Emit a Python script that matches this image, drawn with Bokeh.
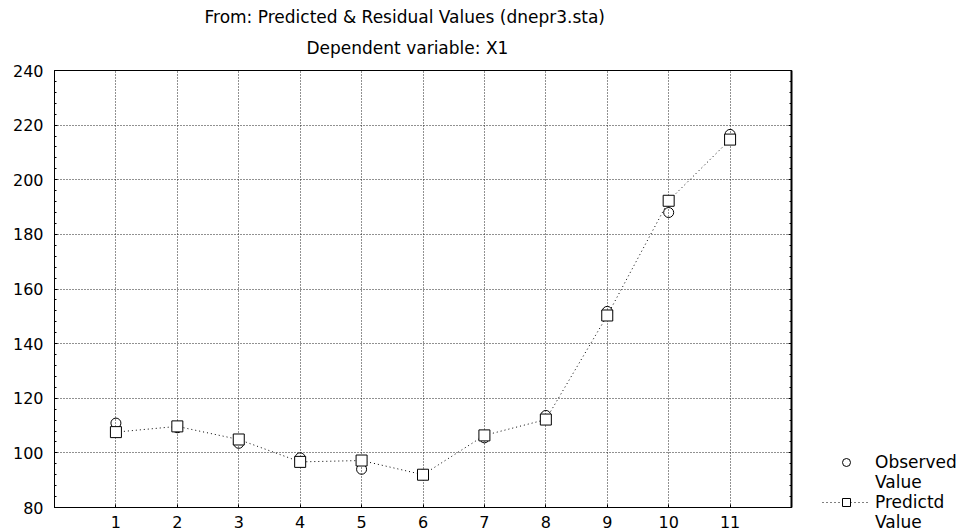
from bokeh.plotting import figure
from bokeh.layouts import row
from bokeh.models import Legend, LegendItem, LinearAxis, FixedTicker, Range1d, Title
from bokeh.embed import file_html
from bokeh.resources import INLINE

# ---- data ----
cases = [1, 2, 3, 4, 5, 6, 7, 8, 9, 10, 11]
observed = [110.9, 109.2, 103.5, 98.2, 94.0, 92.0, 105.5, 113.7, 151.8, 188.0, 216.6]
predicted = [107.6, 109.7, 104.9, 96.7, 97.2, 92.0, 106.4, 112.2, 150.3, 192.3, 214.7]
y_ticks = [80, 100, 120, 140, 160, 180, 200, 220, 240]
y_minor_ticks = list(range(80, 241, 4))
title_lines = ["From: Predicted & Residual Values (dnepr3.sta)", "Dependent variable: X1"]
legend_labels = ["Observed", "Value", "Predictd", "Value"]

FONT = "DejaVu Sans"
FS = "16px"
TFS = "17px"

p = figure(frame_width=737, frame_height=437, output_backend="svg", toolbar_location=None,
           x_range=Range1d(0, 12), y_range=Range1d(80, 240),
           min_border_left=54, min_border_right=10, min_border_top=70,
           min_border_bottom=25)
p.background_fill_color = "white"
p.border_fill_color = "white"
p.outline_line_color = "black"
p.outline_line_width = 1

# titles (first added sits closest to the plot)
p.add_layout(Title(text=title_lines[1], align="left", offset=252, standoff=25,
                   text_font=FONT, text_font_size=TFS, text_font_style="normal",
                   text_color="black"), "above")
p.add_layout(Title(text=title_lines[0], align="left", offset=150, standoff=-7,
                   text_font=FONT, text_font_size=TFS, text_font_style="normal",
                   text_color="black"), "above")

# x axis
p.xaxis.ticker = FixedTicker(ticks=cases)
p.xaxis.major_tick_in = 3
p.xaxis.major_tick_out = 0
p.xaxis.minor_tick_in = 0
p.xaxis.minor_tick_out = 0
p.xaxis.axis_line_color = "black"
p.xaxis.major_tick_line_color = "black"
p.xaxis.major_label_text_font = FONT
p.xaxis.major_label_text_font_size = FS
p.xaxis.major_label_text_color = "black"
p.xaxis.major_label_standoff = 8

# y axis
p.yaxis.ticker = FixedTicker(ticks=y_ticks, minor_ticks=y_minor_ticks)
p.yaxis.major_tick_in = 3
p.yaxis.major_tick_out = 0
p.yaxis.minor_tick_in = 2
p.yaxis.minor_tick_out = 0
p.yaxis.axis_line_color = "black"
p.yaxis.major_tick_line_color = "black"
p.yaxis.minor_tick_line_color = "black"
p.yaxis.major_label_text_font = FONT
p.yaxis.major_label_text_font_size = FS
p.yaxis.major_label_text_color = "black"
p.yaxis.major_label_standoff = 11

right_axis = LinearAxis(ticker=FixedTicker(ticks=y_ticks, minor_ticks=y_minor_ticks),
                        major_label_overrides={t: "" for t in y_ticks},
                        major_tick_in=3, major_tick_out=0,
                        minor_tick_in=2, minor_tick_out=0,
                        axis_line_color="black", axis_line_width=2,
                        major_tick_line_color="black", minor_tick_line_color="black",
                        major_label_standoff=0)
p.add_layout(right_axis, "right")

# grid
p.xgrid.ticker = FixedTicker(ticks=cases)
p.ygrid.ticker = FixedTicker(ticks=y_ticks)
for g in (p.xgrid, p.ygrid):
    g.grid_line_color = "#222222"
    g.grid_line_dash = "1 2"
    g.grid_line_width = 1

# glyphs
p.scatter(cases, observed, marker="circle", size=10,
          fill_color=None, line_color="black", line_width=1)
p.line(cases, predicted, line_color="black", line_width=1, line_dash="1 3")
p.scatter(cases, predicted, marker="square", size=11,
          fill_color="white", line_color="black", line_width=1)

# ---- legend panel: same series, drawn outside its view so only the legend shows ----
lp = figure(width=160, height=532, output_backend="svg", toolbar_location=None,
            x_range=Range1d(-3, -2), y_range=Range1d(-3, -2),
            x_axis_location=None, y_axis_location=None,
            min_border_left=0, min_border_right=0, min_border_top=0, min_border_bottom=0)
lp.frame_align = False
lp.grid.visible = False
lp.outline_line_color = None
lp.background_fill_color = "white"
lp.border_fill_color = "white"
l_circ = lp.scatter(cases, observed, marker="circle", size=10,
                    fill_color=None, line_color="black", line_width=1)
l_line = lp.line(cases, predicted, line_color="black", line_width=1, line_dash="1 3")
l_sq = lp.scatter(cases, predicted, marker="square", size=11,
                  fill_color="white", line_color="black", line_width=1)
l_blank = lp.scatter([], [], marker="circle", size=1, fill_alpha=0, line_alpha=0)

legend = Legend(items=[LegendItem(label=legend_labels[0], renderers=[l_circ]),
                       LegendItem(label=legend_labels[1], renderers=[l_blank]),
                       LegendItem(label=legend_labels[2], renderers=[l_line, l_sq]),
                       LegendItem(label=legend_labels[3], renderers=[l_blank])],
                location=(21, 0), orientation="vertical",
                glyph_width=48, glyph_height=20, label_height=20, spacing=0,
                padding=0, margin=0, border_line_color=None,
                background_fill_alpha=0, label_standoff=5,
                label_text_font=FONT, label_text_font_size=TFS,
                label_text_color="black")
lp.add_layout(legend)

open("out.html", "w").write(file_html(row(p, lp), INLINE))
